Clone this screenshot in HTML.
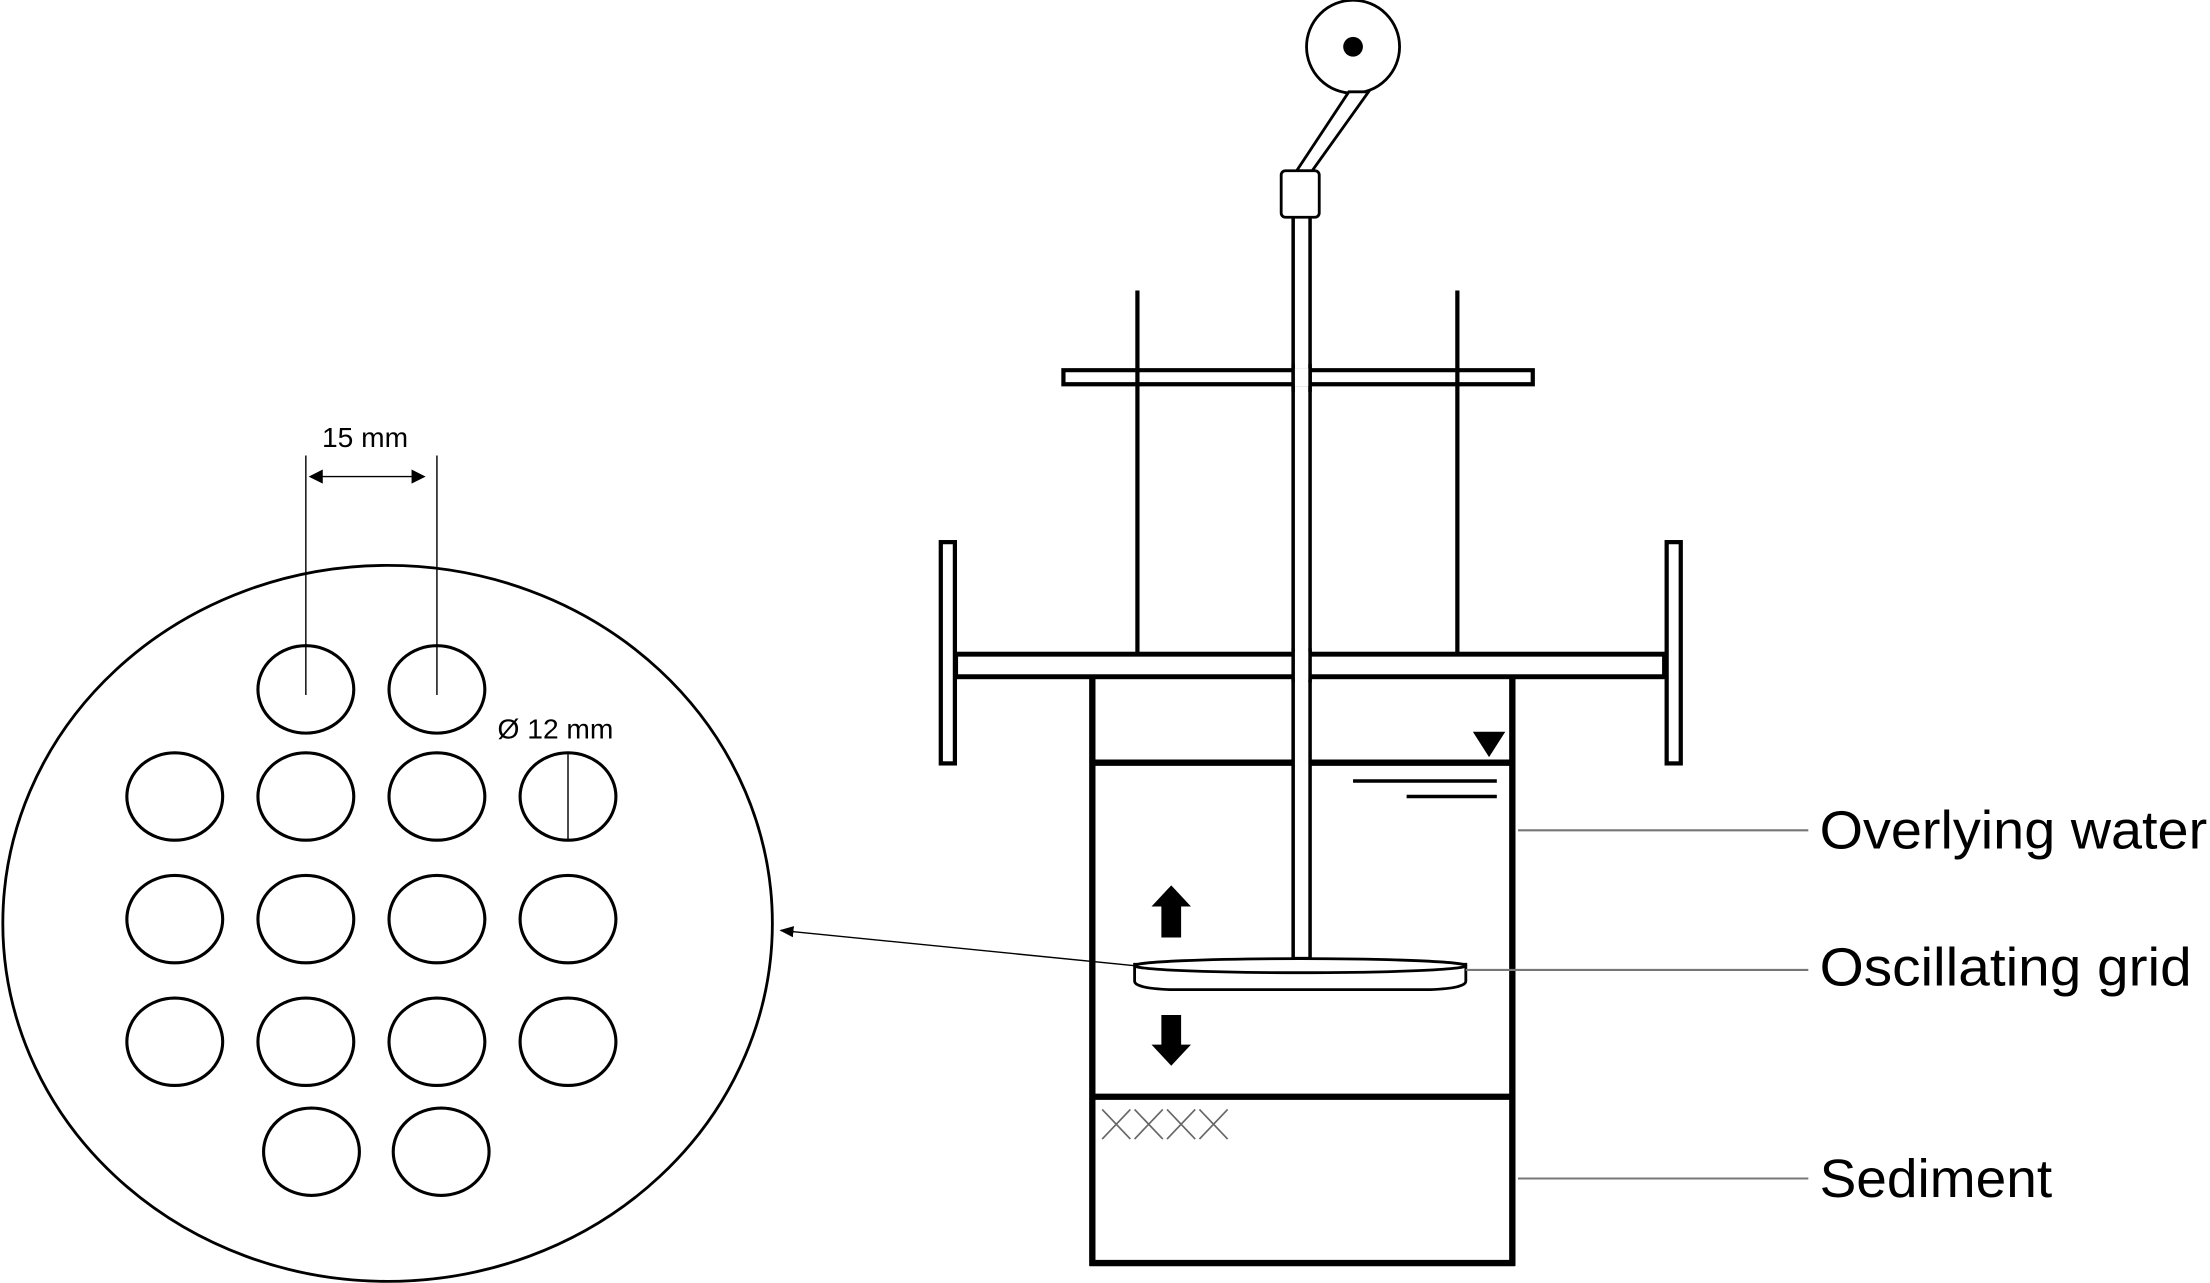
<!DOCTYPE html>
<html><head><meta charset="utf-8"><style>html,body{margin:0;padding:0;background:#fff}svg{display:block}</style></head>
<body>
<svg width="2210" height="1283" viewBox="0 0 1568 910" xmlns="http://www.w3.org/2000/svg">
<rect width="1568" height="910" fill="#fff"/>
<defs>
<marker id="ah" markerWidth="10" markerHeight="10" refX="9" refY="5" orient="auto" markerUnits="userSpaceOnUse"><path d="M0,1 L10,5 L0,9 Z" fill="#000"/></marker>
</defs>
<ellipse cx="275" cy="655" rx="273" ry="254" fill="none" stroke="#000" stroke-width="2"/>
<g fill="none" stroke="#000" stroke-width="2.2">
<ellipse cx="217" cy="489" rx="34" ry="31"/><ellipse cx="310" cy="489" rx="34" ry="31"/>
<ellipse cx="124" cy="565" rx="34" ry="31"/><ellipse cx="217" cy="565" rx="34" ry="31"/><ellipse cx="310" cy="565" rx="34" ry="31"/><ellipse cx="403" cy="565" rx="34" ry="31"/>
<ellipse cx="124" cy="652" rx="34" ry="31"/><ellipse cx="217" cy="652" rx="34" ry="31"/><ellipse cx="310" cy="652" rx="34" ry="31"/><ellipse cx="403" cy="652" rx="34" ry="31"/>
<ellipse cx="124" cy="739" rx="34" ry="31"/><ellipse cx="217" cy="739" rx="34" ry="31"/><ellipse cx="310" cy="739" rx="34" ry="31"/><ellipse cx="403" cy="739" rx="34" ry="31"/>
<ellipse cx="221" cy="817" rx="34" ry="31"/><ellipse cx="313" cy="817" rx="34" ry="31"/>
</g>
<g stroke="#000" stroke-width="1">
<line x1="217" y1="323" x2="217" y2="493"/><line x1="310" y1="323" x2="310" y2="493"/>
<line x1="403" y1="535" x2="403" y2="596"/>
<line x1="222" y1="338" x2="300" y2="338"/>
</g>
<path d="M219,338 L229,333 L229,343 Z M302,338 L292,333 L292,343 Z" fill="#000"/>
<text x="259" y="317" font-family="Liberation Sans, sans-serif" font-size="20" text-anchor="middle">15 mm</text>
<text x="353" y="524" font-family="Liberation Sans, sans-serif" font-size="20">Ø 12 mm</text>
<line x1="805" y1="685" x2="554" y2="660" stroke="#000" stroke-width="1" marker-end="url(#ah)"/>
<circle cx="960" cy="33" r="33" fill="#fff" stroke="#000" stroke-width="2"/>
<circle cx="960" cy="33" r="7" fill="#000"/>
<polygon points="957,65 971,65 931,121 920,121" fill="#fff" stroke="#000" stroke-width="2"/>
<rect x="917.5" y="150" width="12" height="530" fill="#fff" stroke="#000" stroke-width="2.5"/>
<rect x="909" y="121" width="27" height="33" rx="3" fill="#fff" stroke="#000" stroke-width="2"/>
<line x1="807" y1="206" x2="807" y2="463" stroke="#000" stroke-width="3"/>
<line x1="1034" y1="206" x2="1034" y2="463" stroke="#000" stroke-width="3"/>
<path d="M754.5,262.5 H1087.5 V272.5 H754.5 Z" fill="none" stroke="#000" stroke-width="3"/>
<rect x="917.5" y="261" width="12" height="13" fill="#fff"/>
<line x1="917.5" y1="258" x2="917.5" y2="278" stroke="#000" stroke-width="2.5"/>
<line x1="929.5" y1="258" x2="929.5" y2="278" stroke="#000" stroke-width="2.5"/>
<rect x="667.5" y="384.5" width="10" height="157" fill="#fff" stroke="#000" stroke-width="3"/>
<rect x="1182.5" y="384.5" width="10" height="157" fill="#fff" stroke="#000" stroke-width="3"/>
<rect x="678" y="464" width="503" height="16" fill="#fff" stroke="#000" stroke-width="3.5"/>
<rect x="917.5" y="462" width="12" height="20" fill="#fff"/>
<line x1="917.5" y1="460" x2="917.5" y2="484" stroke="#000" stroke-width="2.5"/>
<line x1="929.5" y1="460" x2="929.5" y2="484" stroke="#000" stroke-width="2.5"/>
<g stroke="#000" stroke-width="4.5" fill="none">
<line x1="775" y1="481" x2="775" y2="898"/>
<line x1="1073" y1="481" x2="1073" y2="898"/>
<line x1="773" y1="896" x2="1075" y2="896"/>
<line x1="775" y1="778" x2="1073" y2="778"/>
<line x1="775" y1="541" x2="917" y2="541"/>
<line x1="930" y1="541" x2="1073" y2="541"/>
</g>
<path d="M1045,519 H1068 L1056.5,537 Z" fill="#000"/>
<line x1="960" y1="554" x2="1062" y2="554" stroke="#000" stroke-width="2.5"/>
<line x1="998" y1="565" x2="1062" y2="565" stroke="#000" stroke-width="2.5"/>
<path d="M805,684 L805,696 Q805,701 830,702 L1015,702 Q1040,701 1040,696 L1040,684 Z" fill="#fff" stroke="#000" stroke-width="2"/>
<ellipse cx="922.5" cy="685" rx="117.5" ry="5" fill="#fff" stroke="#000" stroke-width="2"/>
<path d="M831,628 L845,643 L838,643 L838,665 L824,665 L824,643 L817,643 Z" fill="#000"/>
<path d="M831,756 L845,741 L838,741 L838,720 L824,720 L824,741 L817,741 Z" fill="#000"/>
<g stroke="#666" stroke-width="1.2">
<path d="M782,787 L802,808 M802,787 L782,808 M805,787 L825,808 M825,787 L805,808 M828,787 L848,808 M848,787 L828,808 M851,787 L871,808 M871,787 L851,808"/>
</g>
<g stroke="#777" stroke-width="1.5">
<line x1="1077" y1="589" x2="1283" y2="589"/>
<line x1="1040" y1="688" x2="1283" y2="688"/>
<line x1="1077" y1="836" x2="1283" y2="836"/>
</g>
<g font-family="Liberation Sans, sans-serif" font-size="38" fill="#000">
<text x="1291" y="602" textLength="275" lengthAdjust="spacingAndGlyphs">Overlying water</text>
<text x="1291" y="699" textLength="264" lengthAdjust="spacingAndGlyphs">Oscillating grid</text>
<text x="1291" y="849" textLength="165" lengthAdjust="spacingAndGlyphs">Sediment</text>
</g>
</svg>
</body></html>
